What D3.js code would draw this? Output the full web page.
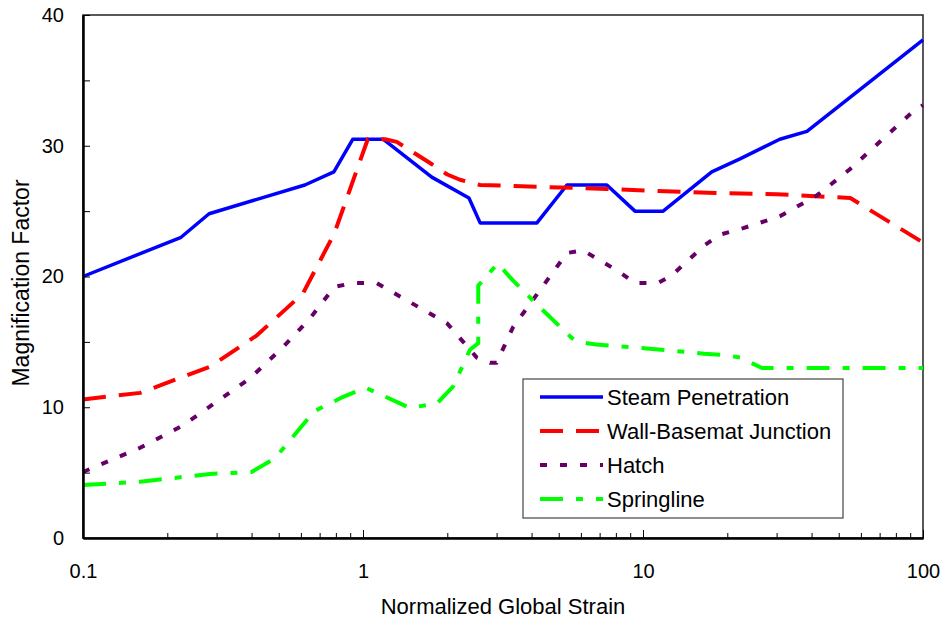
<!DOCTYPE html>
<html>
<head>
<meta charset="utf-8">
<script src="https://cdn.jsdelivr.net/npm/d3@7"></script>
<style>
  body { margin: 0; background: #fff; }
  svg { font-family: Arial, 'Liberation Sans', sans-serif; }
</style>
</head>
<body>
<div id="chart"></div>
<script>
// values, [strain, factor]
const steamPenetration = [
  [0.1, 20.0], [0.224, 23.0], [0.282, 24.8], [0.62, 27.0], [0.787, 28.0],
  [0.92, 30.5], [1.18, 30.5], [1.76, 27.6], [2.39, 26.0], [2.62, 24.1],
  [4.18, 24.1], [5.35, 27.0], [7.43, 27.0], [9.36, 25.0], [11.8, 25.0],
  [17.6, 28.0], [22.2, 29.0], [30.8, 30.5], [38.5, 31.1], [100, 38.1]
];
const wallBasemat = [
  [0.1, 10.6], [0.16, 11.1], [0.284, 13.1], [0.418, 15.5], [0.61, 18.7],
  [0.79, 23.3], [1.04, 30.5], [1.2, 30.5], [1.32, 30.3], [1.73, 28.7],
  [2.0, 27.8], [2.22, 27.4], [2.62, 27.0], [7.4, 26.7], [17, 26.4],
  [30, 26.3], [55, 26.0], [100, 22.6]
];
const hatch = [
  [0.1, 5.05], [0.16, 6.9], [0.227, 8.6], [0.29, 10.2], [0.394, 12.2],
  [0.518, 14.6], [0.647, 16.8], [0.79, 19.2], [0.92, 19.5], [1.12, 19.5],
  [1.3, 18.7], [2.0, 16.4], [2.55, 13.8], [2.84, 13.4], [3.0, 13.4],
  [3.43, 16.1], [5.35, 21.8], [6.1, 22.0], [7.2, 21.1], [8.3, 20.3],
  [9.36, 19.5], [11.3, 19.5], [12.7, 20.1], [16.6, 22.4], [18.8, 23.2],
  [22.8, 23.7], [30.8, 24.6], [41.8, 26.2], [54.8, 28.2], [70.1, 30.3],
  [92, 32.6], [100, 33.1]
];
const springline = [
  [0.1, 4.05], [0.16, 4.3], [0.284, 4.9], [0.40, 5.05], [0.485, 6.1],
  [0.67, 9.7], [0.85, 10.8], [1.02, 11.5], [1.47, 9.95], [1.84, 10.3],
  [2.1, 11.6], [2.41, 14.4], [2.58, 14.9], [2.58, 19.3], [3.03, 21.0],
  [3.43, 19.7], [4.4, 17.4], [5.57, 15.3], [5.86, 15.0], [6.8, 14.8],
  [10.3, 14.5], [16.5, 14.1], [19.6, 14.0], [22.2, 13.8], [26.6, 13.0],
  [100, 13.0]
];

const seriesNames = ['Steam Penetration', 'Wall-Basemat Junction', 'Hatch', 'Springline'];
const seriesData = [steamPenetration, wallBasemat, hatch, springline];
const seriesColors = ['#0000ff', '#ff0000', '#660066', '#00ff00'];
const seriesDash = [null, '23,13', '7,13', '23,13,7,13'];
const seriesWidth = [3.5, 4, 4, 4];

const xMajor = [0.1, 1, 10, 100];
const yMajor = [0, 10, 20, 30, 40];
const yMinor = [5, 15, 25, 35];

const width = 946, height = 628;
const margin = {top: 15, right: 23, bottom: 90, left: 83};

const svg = d3.select('#chart').append('svg')
    .attr('width', width)
    .attr('height', height);

const x = d3.scaleLog()
    .domain([0.1, 100])
    .range([margin.left, width - margin.right]);
const y = d3.scaleLinear()
    .domain([0, 40])
    .range([height - margin.bottom, margin.top]);

// minor x ticks 2..9 in every decade
let xMinor = [];
[0.1, 1, 10].forEach(function (d) {
    for (let k = 2; k < 10; k++) xMinor.push(d * k);
});

// plot frame
svg.append('rect')
    .attr('x', x(0.1))
    .attr('y', y(40))
    .attr('width', x(100) - x(0.1))
    .attr('height', y(0) - y(40))
    .attr('fill', 'none')
    .attr('stroke', '#222')
    .attr('stroke-width', 1.5);

// lines
const line = d3.line()
    .x(function (d) { return x(d[0]); })
    .y(function (d) { return y(d[1]); });

svg.append('g').attr('class', 'lines')
    .selectAll('path')
    .data(seriesData)
    .join('path')
    .attr('d', line)
    .attr('fill', 'none')
    .attr('stroke', function (d, i) { return seriesColors[i]; })
    .attr('stroke-width', function (d, i) { return seriesWidth[i]; })
    .attr('stroke-dasharray', function (d, i) { return seriesDash[i]; })
    .attr('stroke-linejoin', 'round');

// axes
const xAxisG = svg.append('g')
    .attr('transform', 'translate(0,' + y(0) + ')');
xAxisG.call(d3.axisBottom(x).tickValues(xMajor).tickSizeInner(-8).tickSizeOuter(0)
    .tickPadding(26).tickFormat(d3.format('~g')));
xAxisG.append('g').call(d3.axisBottom(x).tickValues(xMinor).tickSizeInner(-5).tickSizeOuter(0)
    .tickFormat(''));

const yAxisG = svg.append('g')
    .attr('transform', 'translate(' + x(0.1) + ',0)');
yAxisG.call(d3.axisLeft(y).tickValues(yMajor).tickSizeInner(-7).tickSizeOuter(0).tickPadding(19));
yAxisG.append('g').call(d3.axisLeft(y).tickValues(yMinor).tickSizeInner(-7).tickSizeOuter(0)
    .tickFormat(''));

svg.selectAll('.domain').attr('stroke', '#000').attr('stroke-width', 2);
svg.selectAll('.tick line').attr('stroke', '#000').attr('stroke-width', 1);
svg.selectAll('.tick text')
    .attr('fill', '#000')
    .style('font-size', '20px')
    .style('font-family', "Arial, 'Liberation Sans', sans-serif");

// axis titles
svg.append('text')
    .attr('x', (x(0.1) + x(100)) / 2)
    .attr('y', 614)
    .attr('text-anchor', 'middle')
    .style('font-size', '22px')
    .text('Normalized Global Strain');

svg.append('text')
    .attr('transform', 'translate(29,283) rotate(-90)')
    .attr('text-anchor', 'middle')
    .style('font-size', '23px')
    .text('Magnification Factor');

// legend
const legend = svg.append('g').attr('transform', 'translate(523,379)');
legend.append('rect')
    .attr('width', 320)
    .attr('height', 139)
    .attr('fill', '#fff')
    .attr('stroke', '#444')
    .attr('stroke-width', 1.2);

const rows = legend.selectAll('g.row')
    .data(seriesNames)
    .join('g')
    .attr('class', 'row')
    .attr('transform', function (d, i) { return 'translate(0,' + (18 + i * 34) + ')'; });

rows.append('line')
    .attr('x1', 17).attr('x2', 80)
    .attr('stroke', function (d, i) { return seriesColors[i]; })
    .attr('stroke-width', function (d, i) { return seriesWidth[i]; })
    .attr('stroke-dasharray', function (d, i) { return seriesDash[i]; });

rows.append('text')
    .attr('x', 84)
    .attr('dy', '0.36em')
    .style('font-size', '22px')
    .text(function (d) { return d; });
</script>
</body>
</html>
